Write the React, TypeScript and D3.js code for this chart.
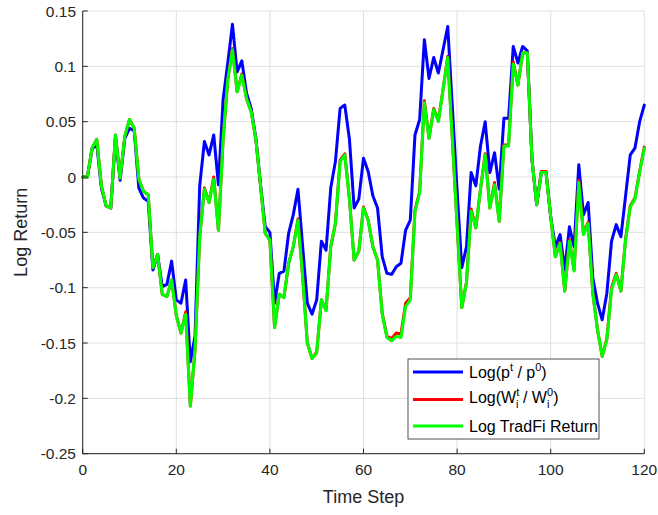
import React from "react";
import * as d3 from "d3";

const steps: number[] = Array.from({ length: 121 }, (_, i) => i);

const logPrice: number[] = [
  0, 0, 0.025, 0.030, -0.010, -0.026, -0.028, 0.036, -0.003, 0.035,
  0.044, 0.042, -0.010, -0.019, -0.022, -0.084, -0.070, -0.099, -0.097, -0.076,
  -0.111, -0.114, -0.093, -0.167, -0.144, -0.008, 0.032, 0.020, 0.038, -0.007,
  0.070, 0.103, 0.138, 0.095, 0.105, 0.076, 0.062, 0.035, -0.007, -0.045,
  -0.050, -0.114, -0.087, -0.085, -0.051, -0.034, -0.011, -0.063, -0.114, -0.124,
  -0.111, -0.058, -0.066, -0.010, 0.014, 0.062, 0.065, 0.034, -0.028, -0.020,
  0.017, 0.005, -0.017, -0.028, -0.072, -0.087, -0.088, -0.081, -0.078, -0.048,
  -0.039, 0.038, 0.052, 0.124, 0.089, 0.108, 0.094, 0.115, 0.136, 0.062,
  -0.012, -0.082, -0.063, 0.004, -0.008, 0.028, 0.050, 0.004, 0.022, -0.011,
  0.053, 0.053, 0.118, 0.103, 0.118, 0.114, 0.016, -0.025, 0.004, 0.004,
  -0.036, -0.063, -0.052, -0.084, -0.045, -0.063, 0.011, -0.034, -0.023, -0.091,
  -0.114, -0.129, -0.105, -0.058, -0.043, -0.054, -0.017, 0.020, 0.026, 0.050,
  0.065,
];

const logWealth: number[] = [
  0, 0, 0.026, 0.034, -0.008, -0.026, -0.028, 0.038, -0.001, 0.037,
  0.052, 0.044, -0.002, -0.013, -0.016, -0.082, -0.070, -0.106, -0.108, -0.093,
  -0.125, -0.141, -0.122, -0.207, -0.156, -0.054, -0.010, -0.023, 0.000, -0.048,
  0.034, 0.088, 0.116, 0.077, 0.093, 0.071, 0.059, 0.034, -0.008, -0.051,
  -0.057, -0.136, -0.106, -0.109, -0.078, -0.063, -0.038, -0.090, -0.150, -0.164,
  -0.158, -0.111, -0.120, -0.063, -0.042, 0.015, 0.021, -0.020, -0.075, -0.067,
  -0.027, -0.039, -0.063, -0.075, -0.123, -0.144, -0.146, -0.141, -0.142, -0.114,
  -0.109, -0.030, -0.013, 0.069, 0.035, 0.062, 0.051, 0.079, 0.109, 0.033,
  -0.043, -0.118, -0.095, -0.029, -0.046, -0.011, 0.021, -0.028, -0.005, -0.040,
  0.029, 0.029, 0.104, 0.083, 0.112, 0.112, 0.016, -0.025, 0.005, 0.005,
  -0.036, -0.072, -0.059, -0.103, -0.057, -0.084, -0.003, -0.051, -0.041, -0.105,
  -0.138, -0.162, -0.146, -0.100, -0.087, -0.103, -0.056, -0.026, -0.019, 0.005,
  0.027,
];

const logTradFi: number[] = [
  0, 0, 0.026, 0.034, -0.008, -0.026, -0.028, 0.038, -0.001, 0.037,
  0.052, 0.044, -0.002, -0.013, -0.016, -0.082, -0.070, -0.106, -0.108, -0.093,
  -0.125, -0.141, -0.124, -0.207, -0.156, -0.054, -0.011, -0.023, -0.002, -0.048,
  0.034, 0.088, 0.115, 0.077, 0.092, 0.071, 0.059, 0.034, -0.008, -0.051,
  -0.057, -0.136, -0.106, -0.109, -0.078, -0.063, -0.039, -0.090, -0.150, -0.164,
  -0.159, -0.111, -0.121, -0.063, -0.042, 0.014, 0.020, -0.020, -0.075, -0.067,
  -0.028, -0.039, -0.063, -0.075, -0.124, -0.145, -0.148, -0.144, -0.145, -0.117,
  -0.111, -0.031, -0.014, 0.067, 0.035, 0.061, 0.050, 0.079, 0.108, 0.033,
  -0.043, -0.118, -0.096, -0.031, -0.046, -0.011, 0.020, -0.028, -0.007, -0.040,
  0.028, 0.028, 0.102, 0.083, 0.112, 0.112, 0.016, -0.025, 0.004, 0.004,
  -0.036, -0.072, -0.060, -0.103, -0.058, -0.085, -0.005, -0.052, -0.042, -0.105,
  -0.138, -0.162, -0.147, -0.102, -0.088, -0.103, -0.057, -0.027, -0.020, 0.004,
  0.026,
];

const xTicks: number[] = [0, 20, 40, 60, 80, 100, 120];
const yTicks: number[] = [0.15, 0.1, 0.05, 0, -0.05, -0.1, -0.15, -0.2, -0.25];
const yTickLabels: string[] = ["0.15", "0.1", "0.05", "0", "-0.05", "-0.1", "-0.15", "-0.2", "-0.25"];

const W = 658;
const H = 515;
const L = 82.7, R = 644.3, T = 11, B = 453.7;
const FONT = "'Liberation Sans', Arial, Helvetica, sans-serif";
const AX = "#262626";

export default function App() {
  const x = d3.scaleLinear().domain([0, 120]).range([L, R]);
  const y = d3.scaleLinear().domain([-0.25, 0.15]).range([B, T]);
  const line = d3
    .line<number>()
    .x((_, i) => x(steps[i]))
    .y((d) => y(d));

  const series = [
    { data: logPrice, color: "#0000ff" },
    { data: logWealth, color: "#ff0000" },
    { data: logTradFi, color: "#00ff00" },
  ];

  const legX = 408, legY = 359, legW = 191, legH = 80;
  const rows = [372, 399.5, 426];

  return (
    <svg
      width={W}
      height={H}
      style={{ position: "absolute", left: 0, top: 0, background: "#fff" }}
      fontFamily={FONT}
    >
      <rect x={0} y={0} width={W} height={H} fill="#fff" />
      {xTicks.map((t) => (
        <line key={"gx" + t} x1={x(t)} x2={x(t)} y1={T} y2={B} stroke="#dfdfdf" strokeWidth={1} />
      ))}
      {yTicks.map((t) => (
        <line key={"gy" + t} x1={L} x2={R} y1={y(t)} y2={y(t)} stroke="#dfdfdf" strokeWidth={1} />
      ))}
      {series.map((s, k) => (
        <path
          key={k}
          d={line(s.data) || ""}
          fill="none"
          stroke={s.color}
          strokeWidth={3}
          strokeLinejoin="round"
          strokeLinecap="round"
        />
      ))}
      <line x1={L} x2={R} y1={B} y2={B} stroke={AX} strokeWidth={1} />
      <line x1={L} x2={L} y1={T} y2={B} stroke={AX} strokeWidth={1} />
      {xTicks.map((t) => (
        <g key={"xt" + t}>
          <line x1={x(t)} x2={x(t)} y1={B} y2={B - 5} stroke={AX} strokeWidth={1} />
          <text x={x(t)} y={475} textAnchor="middle" fontSize={15.5} fill={AX}>
            {t}
          </text>
        </g>
      ))}
      {yTicks.map((t, i) => (
        <g key={"yt" + t}>
          <line x1={L} x2={L + 5} y1={y(t)} y2={y(t)} stroke={AX} strokeWidth={1} />
          <text x={76} y={y(t) + 5.5} textAnchor="end" fontSize={15.5} fill={AX}>
            {yTickLabels[i]}
          </text>
        </g>
      ))}
      <text x={(L + R) / 2} y={503} textAnchor="middle" fontSize={18} fill={AX}>
        Time Step
      </text>
      <text
        transform={`translate(27,${(T + B) / 2}) rotate(-90)`}
        textAnchor="middle"
        fontSize={18}
        fill={AX}
      >
        Log Return
      </text>
      <rect x={legX} y={legY} width={legW} height={legH} fill="#fff" stroke={AX} strokeWidth={0.8} />
      {series.map((s, k) => (
        <line key={"ll" + k} x1={413} x2={463} y1={rows[k]} y2={rows[k]} stroke={s.color} strokeWidth={3} />
      ))}
      <text x={469} y={rows[0] + 6} fontSize={16} fill="#000">
        Log(p
        <tspan fontSize={11} dy={-7}>t</tspan>
        <tspan dy={7}> / p</tspan>
        <tspan fontSize={11} dy={-7}>0</tspan>
        <tspan dy={7}>)</tspan>
      </text>
      <text x={469} y={rows[1] + 3} fontSize={16} fill="#000">
        Log(W
        <tspan fontSize={11} dy={-7}>t</tspan>
        <tspan fontSize={11} dx={-3.1} dy={12}>i</tspan>
        <tspan dy={-5}> / W</tspan>
        <tspan fontSize={11} dy={-7}>0</tspan>
        <tspan fontSize={11} dx={-6.1} dy={12}>i</tspan>
        <tspan dx={3.7} dy={-5}>)</tspan>
      </text>
      <text x={469} y={rows[2] + 6} fontSize={16} fill="#000">
        Log TradFi Return
      </text>
    </svg>
  );
}
